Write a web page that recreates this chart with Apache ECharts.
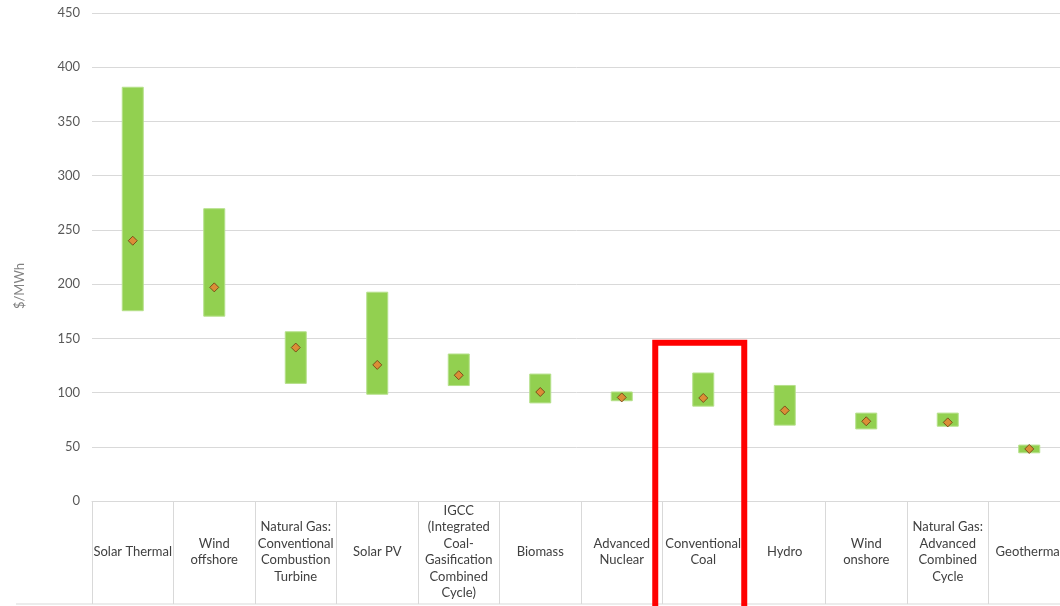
<!DOCTYPE html>
<html>
<head>
<meta charset="utf-8">
<script src="https://cdn.jsdelivr.net/npm/echarts@6/dist/echarts.min.js"></script>
<style>
html,body{margin:0;padding:0;background:#fff;}
#chart{width:1060px;height:606px;}
</style>
</head>
<body>
<div id="chart"></div>
<script>
var categories = [
  'Solar Thermal',
  'Wind\noffshore',
  'Natural Gas:\nConventional\nCombustion\nTurbine',
  'Solar PV',
  'IGCC\n(Integrated\nCoal-\nGasification\nCombined\nCycle)',
  'Biomass',
  'Advanced\nNuclear',
  'Conventional\nCoal',
  'Hydro',
  'Wind\nonshore',
  'Natural Gas:\nAdvanced\nCombined\nCycle',
  'Geothermal'
];
var lowValues  = [175, 170, 108, 98, 106, 90, 92, 87, 69.5, 66, 68.5, 44];
var highValues = [382, 270, 156.5, 193, 136, 117.5, 101, 118.5, 107, 81.5, 81.5, 52];
var avgValues  = [240, 197, 141.5, 125.5, 116, 100.5, 95.5, 95, 83.5, 73.5, 72.5, 48];
var yTicks = [0, 50, 100, 150, 200, 250, 300, 350, 400, 450];
var highlightIndex = 7;
var highlightTop = 146;

var rangeValues = highValues.map(function (h, i) { return h - lowValues[i]; });

var chart = echarts.init(document.getElementById('chart'), null, {renderer: 'canvas'});
var font = 'Lato, "Open Sans", sans-serif';
var axisTitle = {
  type: 'text', x: 20, y: 286, rotation: Math.PI / 2,
  style: {text: '$/MWh', fill: '#808080', font: '13px ' + font, align: 'center', verticalAlign: 'middle'}
};

chart.setOption({
  animation: false,
  backgroundColor: '#ffffff',
  grid: {left: 92, top: 13, width: 978, height: 488, containLabel: false, outerBoundsMode: 'none'},
  xAxis: {
    type: 'category',
    data: categories,
    boundaryGap: true,
    axisLine: {show: true, lineStyle: {color: '#d9d9d9', width: 1}},
    axisTick: {show: true, length: 103, interval: 0, lineStyle: {color: '#d9d9d9', width: 1}},
    axisLabel: {
      interval: 0, margin: 51, verticalAlign: 'middle', align: 'center', hideOverlap: false,
      color: '#404040', fontSize: 13, lineHeight: 16.5, fontFamily: font
    },
    splitLine: {show: false}
  },
  yAxis: {
    type: 'value',
    min: yTicks[0], max: yTicks[yTicks.length - 1], interval: 50,
    axisLine: {show: false}, axisTick: {show: false},
    axisLabel: {margin: 12, color: '#595959', fontSize: 13, fontFamily: font},
    splitLine: {show: true, lineStyle: {color: '#d9d9d9', width: 1}}
  },
  series: [
    {
      name: 'base', type: 'bar', stack: 'range', data: lowValues,
      barWidth: 22, itemStyle: {color: 'rgba(0,0,0,0)'}, silent: true
    },
    {
      name: 'range', type: 'bar', stack: 'range', data: rangeValues,
      barWidth: 22, itemStyle: {color: '#92D050', borderColor: '#b5e08a', borderWidth: 1}
    },
    {
      name: 'average', type: 'scatter', data: avgValues,
      symbol: 'diamond', symbolSize: 9, z: 5,
      itemStyle: {color: '#ED7D31', borderColor: '#6b3a10', borderWidth: 1}
    }
  ],
  graphic: [axisTitle]
});

// highlight box and bottom table line
var cx = chart.convertToPixel({xAxisIndex: 0}, categories[highlightIndex]);
var ty = chart.convertToPixel({yAxisIndex: 0}, highlightTop);
var y0 = chart.convertToPixel({yAxisIndex: 0}, 0);
chart.setOption({
  graphic: [
    axisTitle,
    {
      type: 'rect', z: 100,
      shape: {x: cx - 48, y: ty, width: 89, height: 300},
      style: {fill: 'none', stroke: '#ff0000', lineWidth: 6}
    },
    {
      type: 'line', z: 50,
      shape: {x1: 16, y1: y0 + 103, x2: 1060, y2: y0 + 103},
      style: {stroke: '#d9d9d9', lineWidth: 1}
    }
  ]
});
</script>
</body>
</html>
